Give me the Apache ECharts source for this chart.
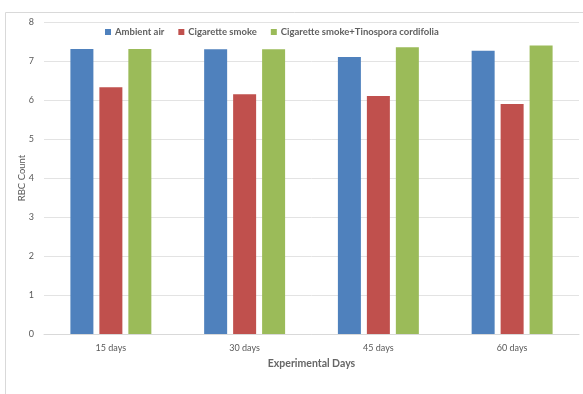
<!DOCTYPE html>
<html>
<head>
<meta charset="utf-8">
<script src="https://cdn.jsdelivr.net/npm/echarts@6/dist/echarts.min.js"></script>
<style>
  html, body { margin: 0; padding: 0; background: #fff; }
  #chart { width: 583px; height: 394px; }
</style>
</head>
<body>
<div id="chart"></div>
<script>
// Categories and series values
const categories = ['15 days', '30 days', '45 days', '60 days'];
const ambientAir = [7.31, 7.30, 7.10, 7.26];
const cigaretteSmoke = [6.33, 6.15, 6.10, 5.90];
const smokeTinospora = [7.31, 7.30, 7.35, 7.40];
const yTicks = [0, 1, 2, 3, 4, 5, 6, 7, 8];

const FONT = 'Lato';
const chart = echarts.init(document.getElementById('chart'), null, { renderer: 'canvas' });

chart.setOption({
  animation: false,
  backgroundColor: '#ffffff',
  textStyle: { fontFamily: FONT },
  graphic: [{
    type: 'rect',
    shape: { x: 5.5, y: 12.5, width: 600, height: 400 },
    style: { fill: 'none', stroke: '#d9d9d9', lineWidth: 1 },
    silent: true
  }],
  legend: {
    top: 22,
    left: 100,
    itemWidth: 6,
    itemHeight: 6,
    itemGap: 14,
    icon: 'rect',
    textStyle: { fontFamily: FONT, fontSize: 9.5, fontWeight: 'bold', color: '#5f5f5f', padding: [0, 0, 0, -1] },
    data: ['Ambient air', 'Cigarette smoke', 'Cigarette smoke+Tinospora cordifolia']
  },
  grid: { left: 44, right: 4, top: 22, bottom: 60, containLabel: false },
  xAxis: {
    type: 'category',
    data: categories,
    axisLine: { show: true, lineStyle: { color: '#d9d9d9' } },
    axisTick: { show: false },
    axisLabel: { fontFamily: FONT, fontSize: 9, color: '#595959', margin: 10 },
    name: 'Experimental Days',
    nameLocation: 'middle',
    nameGap: 24,
    nameTextStyle: { fontFamily: FONT, fontSize: 10.5, fontWeight: 'bold', color: '#666666' }
  },
  yAxis: {
    type: 'value',
    min: yTicks[0],
    max: yTicks[yTicks.length - 1],
    interval: 1,
    axisLine: { show: false },
    axisTick: { show: false },
    splitLine: { lineStyle: { color: '#e3e3e3' } },
    axisLabel: { fontFamily: FONT, fontSize: 9, color: '#595959', margin: 10 },
    name: 'RBC Count',
    nameLocation: 'middle',
    nameGap: 17,
    nameMoveOverlap: false,
    nameTextStyle: { fontFamily: FONT, fontSize: 9.5, color: '#595959' }
  },
  series: [
    { name: 'Ambient air', type: 'bar', data: ambientAir, barWidth: 23, barGap: '26%',
      itemStyle: { color: '#4f81bd' } },
    { name: 'Cigarette smoke', type: 'bar', data: cigaretteSmoke, barWidth: 23, barGap: '26%',
      itemStyle: { color: '#c0504d' } },
    { name: 'Cigarette smoke+Tinospora cordifolia', type: 'bar', data: smokeTinospora, barWidth: 23, barGap: '26%',
      itemStyle: { color: '#9bbb59' } }
  ]
});
</script>
</body>
</html>
